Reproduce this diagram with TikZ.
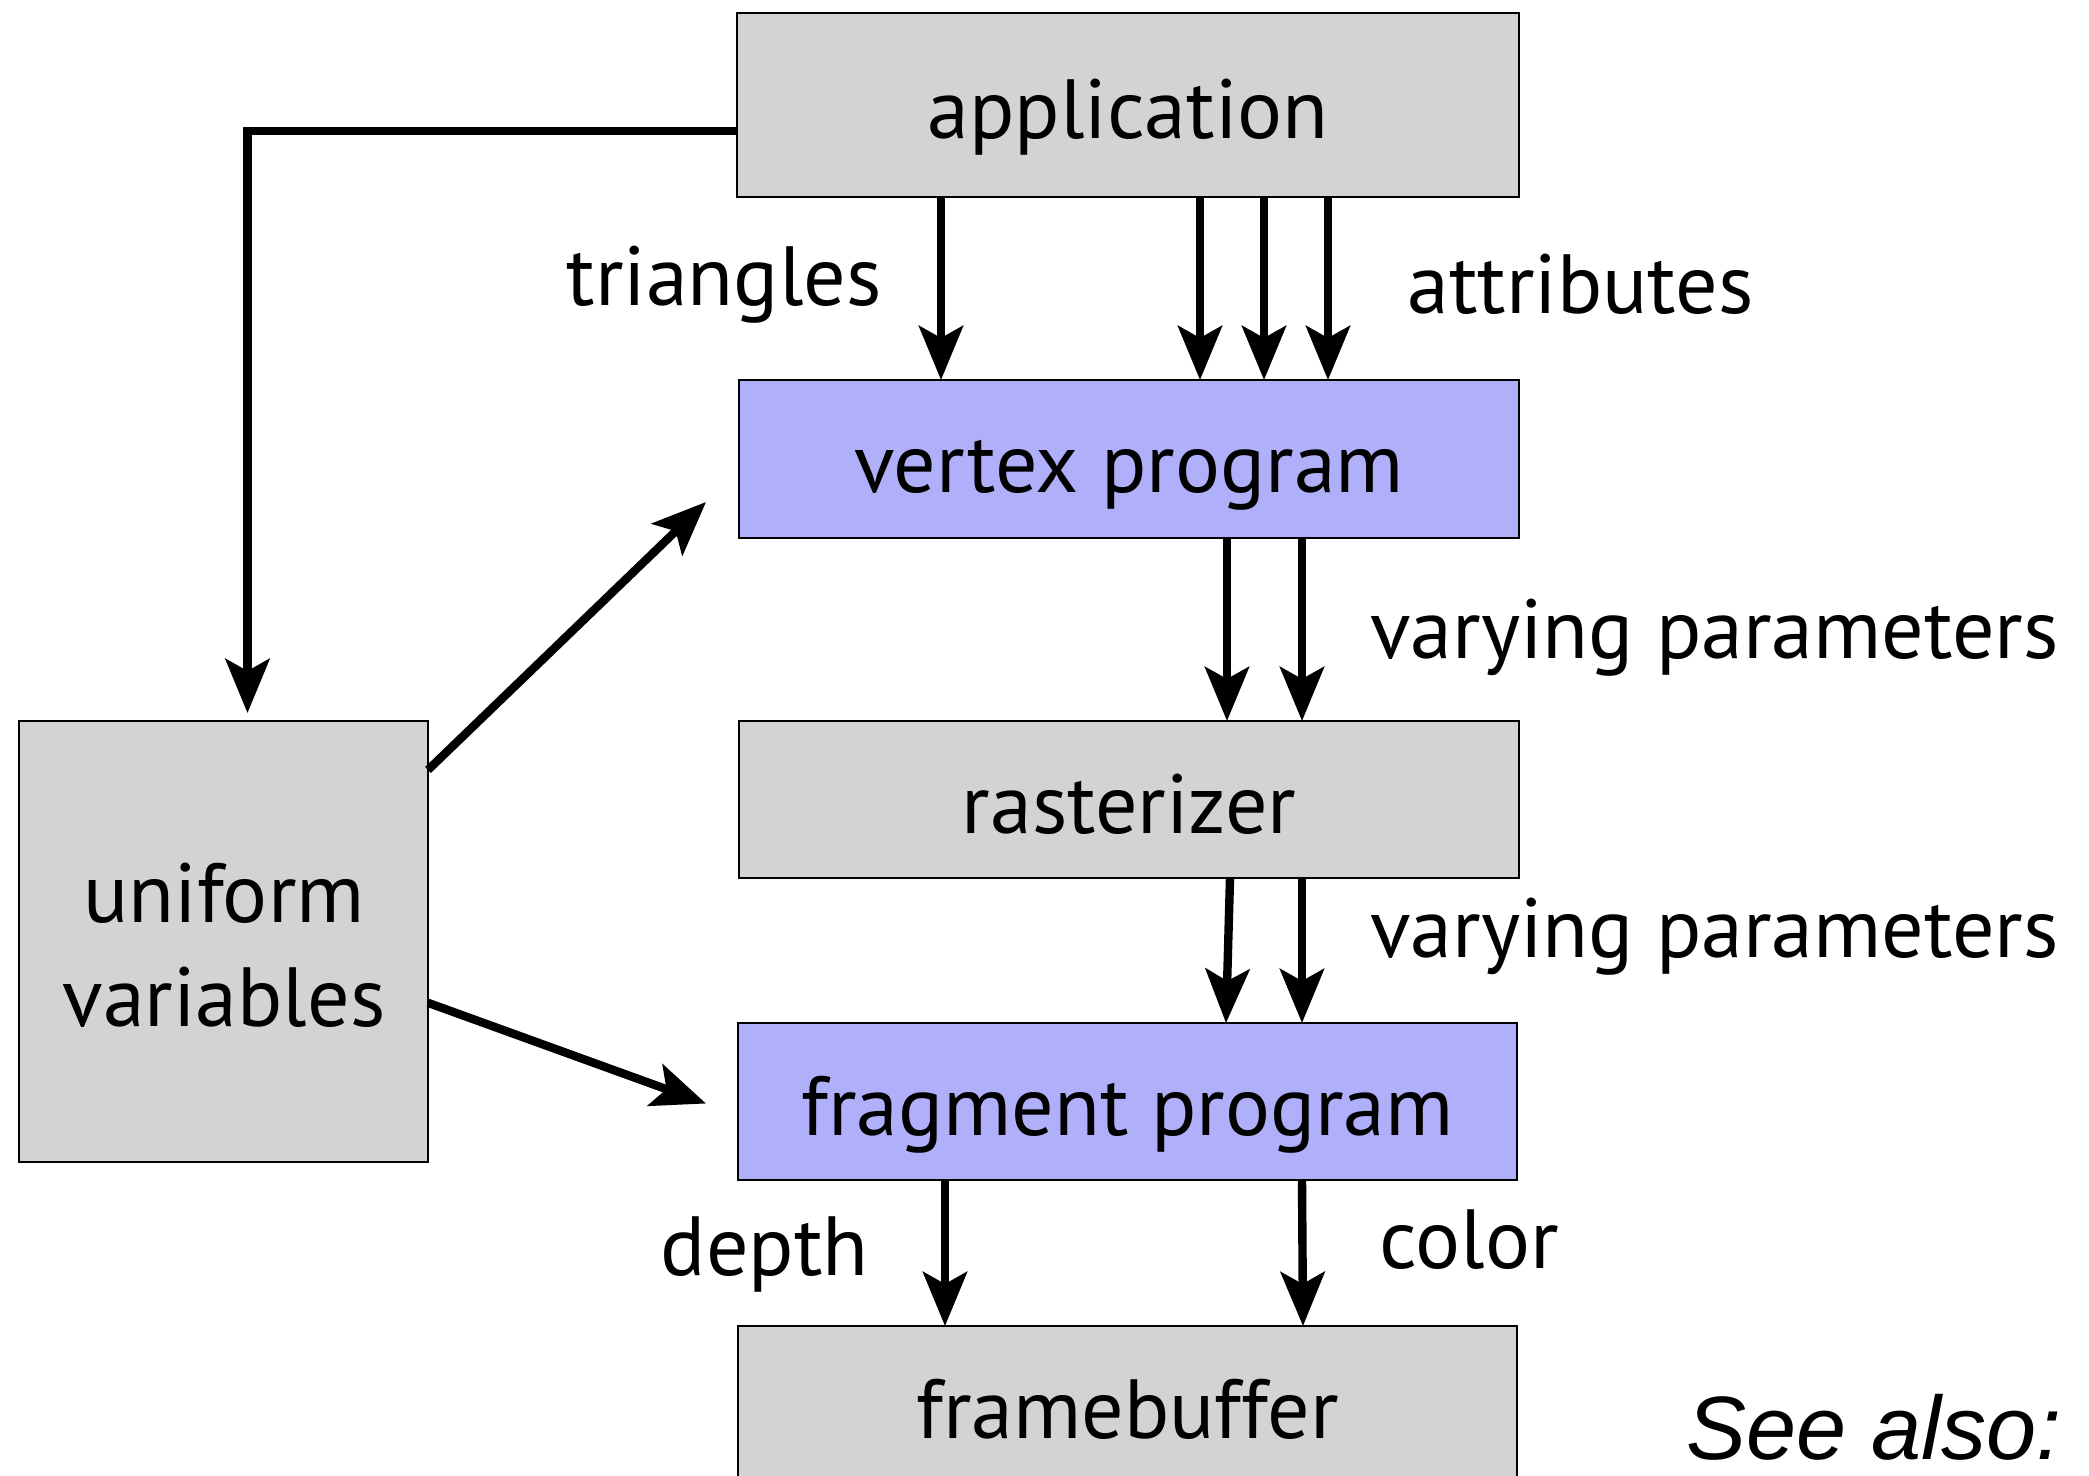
\documentclass[tikz,border=0pt]{standalone}
\usepackage{fontspec}
\setmainfont{PT Sans}
\newfontfamily\helv{Liberation Sans}
\usetikzlibrary{arrows.meta,calc}
\definecolor{boxgray}{RGB}{211,211,211}
\definecolor{boxblue}{RGB}{176,176,250}
\begin{document}
\begin{tikzpicture}[x=0.5pt,y=-0.5pt,
  box/.style={draw=black, line width=1.2pt, inner sep=0pt, outer sep=0pt,
    font=\fontsize{42pt}{50pt}\selectfont, text height=34pt, text depth=0pt},
  gbox/.style={box, fill=boxgray},
  bbox/.style={box, fill=boxblue},
  lbl/.style={font=\fontsize{42pt}{50pt}\selectfont, inner sep=0pt},
  arr/.style={line width=4.2pt, -{Stealth[length=27pt,width=22pt,inset=6pt]}}
]
\clip (0,0) rectangle (2089,1476);
\fill[white] (0,0) rectangle (2089,1476);

\node[gbox, minimum width=391pt, minimum height=92pt] (app) at (1128,105) {application};
\node[bbox, minimum width=390pt, minimum height=79pt] (vp) at (1129,459) {vertex program};
\node[gbox, minimum width=390pt, minimum height=78.5pt] (ras) at (1129,799.5) {rasterizer};
\node[bbox, minimum width=389.5pt, minimum height=78.5pt] (fp) at (1127.5,1101.5) {fragment program};
\node[gbox, minimum width=389.5pt, minimum height=78.5pt] (fb) at (1127.5,1404.5) {framebuffer};
\node[gbox, minimum width=204.5pt, minimum height=220.5pt] (uv) at (223.5,941.5) {};
\node[lbl, anchor=base] (uvt1) at (224,922) {uniform};
\node[lbl, anchor=base] (uvt2) at (224,1026) {variables};

\node[lbl, anchor=base east] (tri) at (882,306) {triangles};
\node[lbl, anchor=base west] (attr) at (1407,314) {attributes};
\node[lbl, anchor=base west] (var1) at (1370,658) {varying parameters};
\node[lbl, anchor=base west] (var2) at (1370,957) {varying parameters};
\node[lbl, anchor=base east] (dep) at (869,1275) {depth};
\node[lbl, anchor=base west] (col) at (1379,1268) {color};
\node[inner sep=0pt, anchor=base east, font=\helv\itshape\fontsize{45pt}{54pt}\selectfont] (see) at (2062,1459) {See also:};

\draw[arr] (941,0 |- app.south) -- (941,0 |- vp.north);
\draw[arr] (1200,0 |- app.south) -- (1200,0 |- vp.north);
\draw[arr] (1264,0 |- app.south) -- (1264,0 |- vp.north);
\draw[arr] (1328,0 |- app.south) -- (1328,0 |- vp.north);

\draw[arr] (1227,0 |- vp.south) -- (1227,0 |- ras.north);
\draw[arr] (1302,0 |- vp.south) -- (1302,0 |- ras.north);

\draw[arr] (1230,0 |- ras.south) -- (1226,0 |- fp.north);
\draw[arr] (1302,0 |- ras.south) -- (1302,0 |- fp.north);

\draw[arr] (945,0 |- fp.south) -- (945,0 |- fb.north);
\draw[arr] (1302,0 |- fp.south) -- (1303,0 |- fb.north);

\draw[arr] ($(app.north west)!0.641!(app.south west)$) -| ($(uv.north)+(24,-8)$);
\draw[arr] ($(uv.north east)!0.111!(uv.south east)$) -- ($(vp.west)+(-33,43)$);
\draw[arr] ($(uv.north east)!0.639!(uv.south east)$) -- ($(fp.west)+(-32,2)$);
\end{tikzpicture}
\end{document}
